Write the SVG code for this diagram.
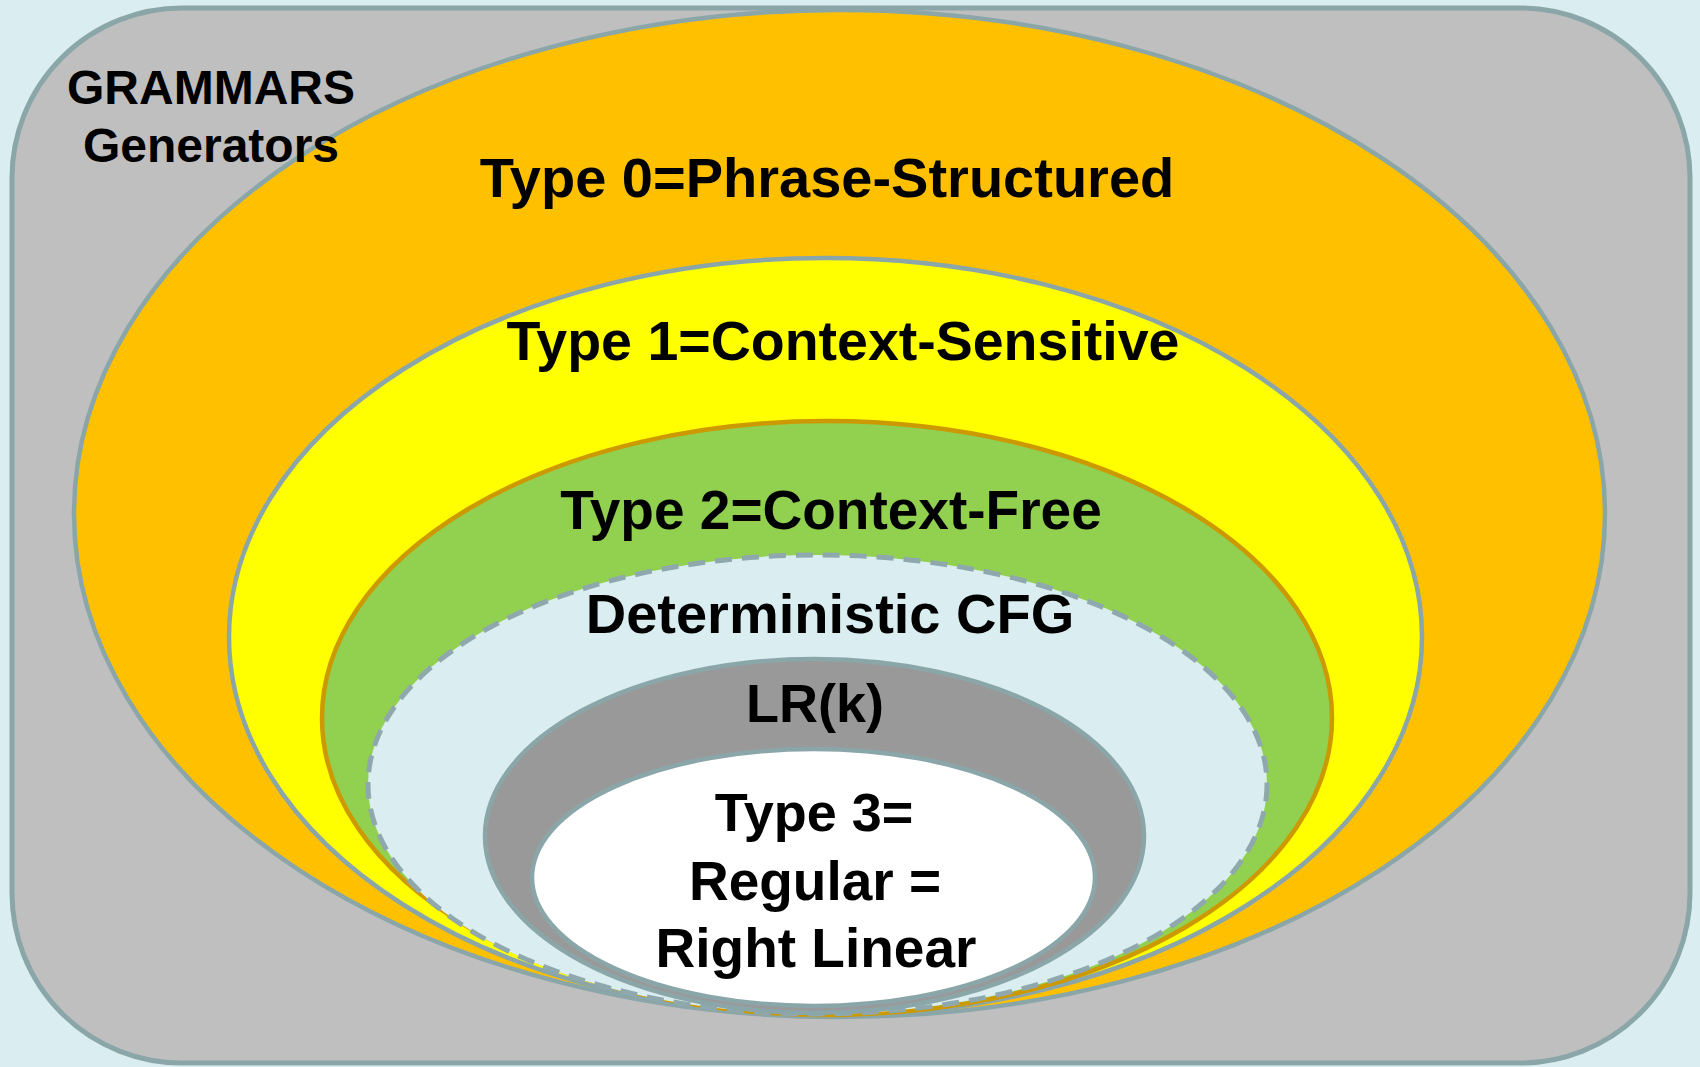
<svg xmlns="http://www.w3.org/2000/svg" width="1700" height="1067" viewBox="0 0 1700 1067">
<style>
.lbl{font-family:"Liberation Sans",Arial,Helvetica,sans-serif;font-weight:bold;fill:#000;text-anchor:middle;font-size:55px}
.edge{stroke:#8ba6a9;stroke-width:4.5}
</style>
<rect x="0" y="0" width="1700" height="1067" fill="#daedf0"/>
<g id="grammars">
<rect x="12" y="8" width="1678" height="1055" rx="170" ry="170" fill="#bfbfbf" stroke="#8ba6a9" stroke-width="5"/>
</g>
<g id="type0">
<ellipse class="edge" cx="839.5" cy="513.5" rx="765.5" ry="503.5" fill="#ffc000"/>
<text class="lbl" x="827" y="197" style="font-size:56px">Type 0=Phrase-Structured</text>
</g>
<g id="type1">
<ellipse class="edge" cx="825.5" cy="637" rx="596.5" ry="379" fill="#ffff00"/>
<text class="lbl" x="843" y="360" style="font-size:55.5px">Type 1=Context-Sensitive</text>
</g>
<g id="type2">
<ellipse cx="827" cy="718" rx="505" ry="297" fill="#92d050" stroke="#cc9900" stroke-width="4.5"/>
<text class="lbl" x="831" y="529">Type 2=Context-Free</text>
</g>
<g id="dcfg">
<ellipse cx="817.5" cy="784.5" rx="449.5" ry="229.5" fill="#daedf0" stroke="#8fa8ad" stroke-width="5" stroke-dasharray="17 10"/>
<text class="lbl" x="830" y="633" style="font-size:56px">Deterministic CFG</text>
</g>
<g id="lrk">
<ellipse class="edge" cx="814.5" cy="836" rx="329.5" ry="177" fill="#999999"/>
<text class="lbl" x="815" y="722" style="font-size:54px">LR(k)</text>
</g>
<g id="type3">
<ellipse class="edge" cx="813.5" cy="877.5" rx="281.5" ry="128.5" fill="#ffffff"/>
<text class="lbl" x="814" y="831" style="font-size:54px">Type 3=</text>
<text class="lbl" x="815" y="900">Regular =</text>
<text class="lbl" x="816" y="967">Right Linear</text>
</g>
<g id="grammars-label">
<text class="lbl" x="211" y="104" style="font-size:48px">GRAMMARS</text>
<text class="lbl" x="211" y="162" style="font-size:48px">Generators</text>
</g>
<g id="connectors"/>
</svg>
